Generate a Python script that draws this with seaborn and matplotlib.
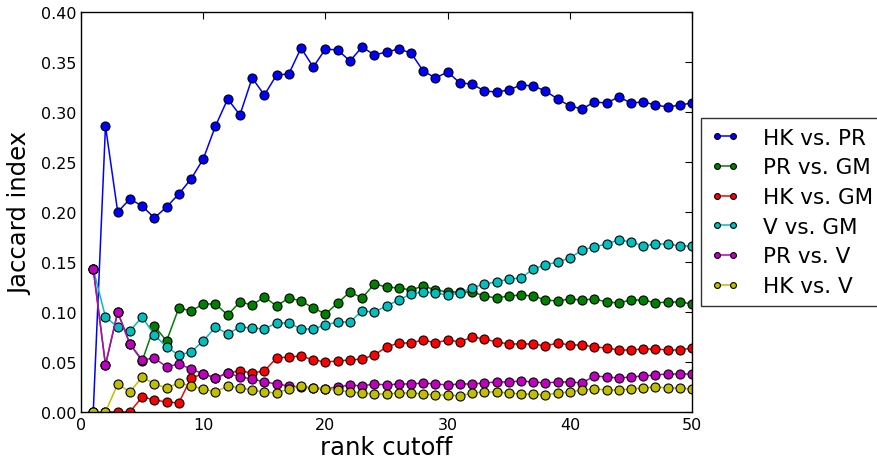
import matplotlib
matplotlib.use('Agg')
import matplotlib.pyplot as plt
import seaborn as sns
import pandas as pd

# rank cutoff 1..50
ranks = list(range(1, 51))

hk_pr = [0.000, 0.286, 0.200, 0.213, 0.206, 0.194, 0.205, 0.218, 0.233, 0.253,
         0.286, 0.313, 0.297, 0.334, 0.317, 0.337, 0.338, 0.364, 0.345, 0.363,
         0.362, 0.351, 0.365, 0.357, 0.360, 0.363, 0.359, 0.341, 0.334, 0.340,
         0.329, 0.328, 0.321, 0.320, 0.322, 0.327, 0.326, 0.321, 0.313, 0.306,
         0.303, 0.310, 0.309, 0.315, 0.309, 0.310, 0.307, 0.305, 0.307, 0.309]

pr_gm = [0.143, 0.047, 0.100, 0.068, 0.051, 0.086, 0.071, 0.104, 0.101, 0.108,
         0.108, 0.097, 0.110, 0.107, 0.115, 0.106, 0.114, 0.111, 0.104, 0.098,
         0.109, 0.120, 0.114, 0.128, 0.125, 0.124, 0.122, 0.126, 0.122, 0.120,
         0.120, 0.120, 0.116, 0.114, 0.116, 0.117, 0.116, 0.112, 0.111, 0.113,
         0.112, 0.113, 0.110, 0.109, 0.112, 0.112, 0.109, 0.110, 0.110, 0.108]

hk_gm = [0.000, 0.000, 0.000, 0.000, 0.015, 0.012, 0.010, 0.009, 0.034, 0.038,
         0.034, 0.039, 0.041, 0.039, 0.041, 0.054, 0.055, 0.056, 0.052, 0.050,
         0.051, 0.052, 0.053, 0.057, 0.065, 0.069, 0.069, 0.072, 0.069, 0.072,
         0.070, 0.075, 0.073, 0.070, 0.068, 0.068, 0.068, 0.066, 0.069, 0.067,
         0.067, 0.065, 0.064, 0.062, 0.062, 0.063, 0.063, 0.062, 0.062, 0.064]

v_gm = [0.143, 0.095, 0.085, 0.081, 0.095, 0.077, 0.065, 0.057, 0.060, 0.071,
        0.085, 0.078, 0.085, 0.084, 0.083, 0.089, 0.089, 0.083, 0.083, 0.087,
        0.090, 0.090, 0.101, 0.100, 0.106, 0.112, 0.118, 0.120, 0.119, 0.117,
        0.119, 0.124, 0.128, 0.130, 0.133, 0.134, 0.143, 0.147, 0.150, 0.154,
        0.162, 0.165, 0.168, 0.172, 0.170, 0.166, 0.168, 0.168, 0.166, 0.166]

pr_v = [0.143, 0.047, 0.100, 0.068, 0.052, 0.054, 0.045, 0.048, 0.043, 0.038,
        0.034, 0.039, 0.035, 0.033, 0.030, 0.028, 0.026, 0.025, 0.024, 0.023,
        0.025, 0.027, 0.026, 0.028, 0.027, 0.028, 0.028, 0.029, 0.028, 0.027,
        0.028, 0.028, 0.029, 0.030, 0.030, 0.031, 0.030, 0.029, 0.030, 0.030,
        0.029, 0.036, 0.035, 0.034, 0.035, 0.036, 0.037, 0.038, 0.038, 0.038]

hk_v = [0.000, 0.000, 0.028, 0.020, 0.035, 0.028, 0.024, 0.029, 0.026, 0.023,
        0.020, 0.026, 0.024, 0.022, 0.020, 0.019, 0.023, 0.026, 0.024, 0.023,
        0.022, 0.020, 0.019, 0.018, 0.018, 0.019, 0.019, 0.018, 0.017, 0.017,
        0.016, 0.019, 0.020, 0.020, 0.019, 0.018, 0.018, 0.017, 0.019, 0.020,
        0.022, 0.023, 0.022, 0.022, 0.023, 0.024, 0.025, 0.024, 0.024, 0.023]

pair_names = ['HK vs. PR', 'PR vs. GM', 'HK vs. GM', 'V vs. GM', 'PR vs. V', 'HK vs. V']
pair_colors = ['b', 'g', 'r', 'c', 'm', 'y']

series = [hk_pr, pr_gm, hk_gm, v_gm, pr_v, hk_v]
df = pd.concat([pd.DataFrame({'rank': ranks, 'jaccard': vals, 'pair': name})
                for name, vals in zip(pair_names, series)], ignore_index=True)

sns.set_style('white', rc={'text.color': 'k', 'axes.labelcolor': 'k',
                           'xtick.color': 'k', 'ytick.color': 'k'})
plt.rcParams['font.family'] = ['DejaVu Sans']

fig = plt.figure(figsize=(8.78, 4.64), dpi=100)
ax = fig.add_axes([0.0923, 0.110, 0.696, 0.862])

sns.lineplot(data=df, x='rank', y='jaccard', hue='pair', hue_order=pair_names,
             palette=dict(zip(pair_names, pair_colors)), marker='o', markersize=6.5,
             markeredgecolor='k', markeredgewidth=0.8, linewidth=1.1,
             errorbar=None, ax=ax, legend=True)

ax.set_xlim(0, 50)
ax.set_ylim(0, 0.40)
ax.set_xticks([0, 10, 20, 30, 40, 50])
ax.set_yticks([0.0, 0.05, 0.10, 0.15, 0.20, 0.25, 0.30, 0.35, 0.40])
ax.set_yticklabels(['%.2f' % t for t in ax.get_yticks()])
ax.tick_params(direction='in', top=True, right=True, length=5, width=0.8,
               labelsize=11.5, colors='k')
for sp in ax.spines.values():
    sp.set_color('k')
    sp.set_linewidth(1.0)
ax.set_xlabel('rank cutoff', fontsize=17.5, labelpad=2, color='k')
ax.set_ylabel('Jaccard index', fontsize=17.5, labelpad=6, color='k')

handles, labels = ax.get_legend_handles_labels()
ax.get_legend().remove()
leg = fig.legend(handles, labels, loc='upper left', bbox_to_anchor=(701 / 878, 1 - 119 / 464),
                 bbox_transform=fig.transFigure, fontsize=15.5, numpoints=2, frameon=True,
                 fancybox=False, edgecolor='k', borderaxespad=0, handlelength=1.35,
                 handletextpad=1.1, markerscale=0.65, labelspacing=0.45, borderpad=0.45)
for t in leg.get_texts():
    t.set_color('k')

plt.savefig('out.png', dpi=100)
